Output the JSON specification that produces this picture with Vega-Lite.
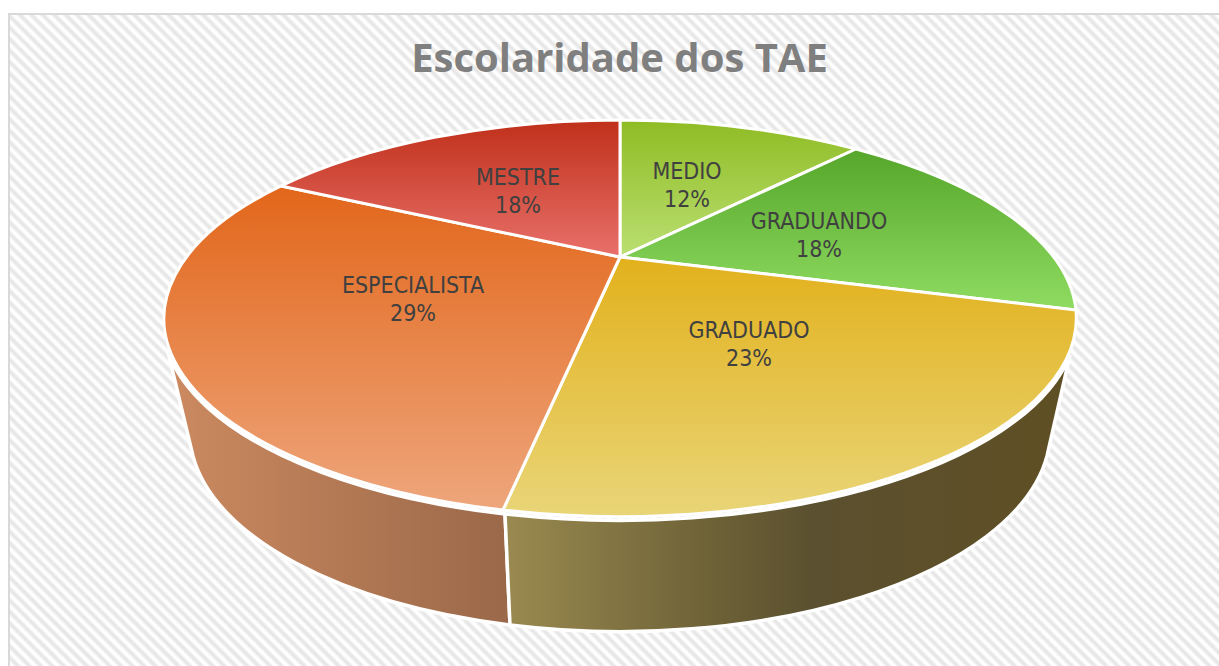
{"$schema":"https://vega.github.io/schema/vega-lite/v6.json","width":1219,"height":666,"padding":0,"autosize":{"type":"none"},"background":"white","config":{"view":{"stroke":null}},
"title":{"text":"Escolaridade dos TAE","anchor":"middle","dx":10,"dy":84,"font":"Open Sans","fontSize":40,"fontWeight":"bold","color":"#7f7f7f"},
"data":{"values":[{"slice":"MEDIO","share":0.12},{"slice":"GRADUANDO","share":0.18},{"slice":"GRADUADO","share":0.23},{"slice":"ESPECIALISTA","share":0.29},{"slice":"MESTRE","share":0.18}]},
"encoding":{"x":{"datum":0,"type":"quantitative","scale":{"domain":[-620,599]},"axis":null},"y":{"datum":0,"type":"quantitative","scale":{"domain":[409,-257]},"axis":null}},
"layer":[
{"transform":[{"filter":"datum.slice==='MEDIO'"}],"layer":[
{"mark":{"type":"point","size":4,"opacity":1,"clip":true,"filled":false,"shape":"M-1000,1000L1000,-1000","stroke":"#f4f4f4","strokeWidth":3000,"strokeDash":[5.5,2.6]}},
{"mark":{"type":"point","size":4,"opacity":1,"clip":true,"filled":false,"shape":"M-1000,1000L1000,-1000","stroke":"#e7e7e7","strokeWidth":3000,"strokeDash":[2.8,5.3],"strokeDashOffset":-1.4}},
{"mark":{"type":"point","size":4,"opacity":1,"filled":true,"fill":"white","shape":"M-620,-257H599V-244H-612V409H-620Z"}},
{"mark":{"type":"point","size":4,"opacity":1,"filled":false,"stroke":"#d9d9d9","strokeWidth":2,"shape":"M-611,409V-243H599"}}]},
{"transform":[{"filter":"datum.slice==='ESPECIALISTA'"}],"mark":{"type":"point","size":4,"opacity":1,"filled":true,"stroke":"white","strokeWidth":3.5,"fill":{"gradient":"linear","x1":0,"y1":0,"x2":1,"y2":0,"stops":[{"offset":0,"color":"#cc8a60"},{"offset":1,"color":"#9a6849"}]},"shape":"M-452,95A457,199 0 0 0 -115,257L-110,368A430,200 0 0 1 -427,199Z"}},
{"transform":[{"filter":"datum.slice==='GRADUADO'"}],"mark":{"type":"point","size":4,"opacity":1,"filled":true,"stroke":"white","strokeWidth":3.5,"fill":{"gradient":"linear","x1":0,"y1":0,"x2":1,"y2":0,"stops":[{"offset":0,"color":"#9a8a50"},{"offset":0.35,"color":"#6f6338"},{"offset":0.55,"color":"#5b502f"},{"offset":1,"color":"#5f4f24"}]},"shape":"M-115,257A457,199 0 0 0 450,98L427,199A430,200 0 0 1 -110,368Z"}},
{"transform":[{"filter":"datum.slice==='MEDIO'"}],"layer":[
{"mark":{"type":"point","size":4,"opacity":1,"filled":true,"stroke":"white","strokeWidth":3,"fill":{"gradient":"linear","x1":0,"y1":0,"x2":0,"y2":1,"stops":[{"offset":0,"color":"#8fbc24"},{"offset":1,"color":"#bbdf72"}]},"shape":"M0,0L0,-137A457,199 0 0 1 236,-108Z"}},
{"mark":{"type":"text","dx":67,"dy":-85,"font":"DejaVu Sans Condensed","fontSize":23,"color":"#404040"},"encoding":{"text":{"field":"slice"}}},
{"mark":{"type":"text","dx":67,"dy":-57,"font":"DejaVu Sans Condensed","fontSize":23,"color":"#404040"},"encoding":{"text":{"field":"share","type":"quantitative","format":".0%"}}}]},
{"transform":[{"filter":"datum.slice==='GRADUANDO'"}],"layer":[
{"mark":{"type":"point","size":4,"opacity":1,"filled":true,"stroke":"white","strokeWidth":3,"fill":{"gradient":"linear","x1":0,"y1":0,"x2":0,"y2":1,"stops":[{"offset":0,"color":"#55a62a"},{"offset":1,"color":"#90dc62"}]},"shape":"M0,0L236,-108A457,199 0 0 1 456,53Z"}},
{"mark":{"type":"text","dx":199,"dy":-35,"font":"DejaVu Sans Condensed","fontSize":23,"color":"#404040"},"encoding":{"text":{"field":"slice"}}},
{"mark":{"type":"text","dx":199,"dy":-7,"font":"DejaVu Sans Condensed","fontSize":23,"color":"#404040"},"encoding":{"text":{"field":"share","type":"quantitative","format":".0%"}}}]},
{"transform":[{"filter":"datum.slice==='GRADUADO'"}],"layer":[
{"mark":{"type":"point","size":4,"opacity":1,"filled":true,"stroke":"white","strokeWidth":3,"fill":{"gradient":"linear","x1":0,"y1":0,"x2":0,"y2":1,"stops":[{"offset":0,"color":"#e2b11c"},{"offset":1,"color":"#e9d578"}]},"shape":"M0,0L456,53A457,199 0 0 1 -117,253Z"}},
{"mark":{"type":"text","dx":129,"dy":74,"font":"DejaVu Sans Condensed","fontSize":23,"color":"#404040"},"encoding":{"text":{"field":"slice"}}},
{"mark":{"type":"text","dx":129,"dy":102,"font":"DejaVu Sans Condensed","fontSize":23,"color":"#404040"},"encoding":{"text":{"field":"share","type":"quantitative","format":".0%"}}}]},
{"transform":[{"filter":"datum.slice==='ESPECIALISTA'"}],"layer":[
{"mark":{"type":"point","size":4,"opacity":1,"filled":true,"stroke":"white","strokeWidth":3,"fill":{"gradient":"linear","x1":0,"y1":0,"x2":0,"y2":1,"stops":[{"offset":0,"color":"#e2661a"},{"offset":1,"color":"#eea67c"}]},"shape":"M0,0L-117,253A455,198 0 0 1 -339,-71Z"}},
{"mark":{"type":"text","dx":-207,"dy":29,"font":"DejaVu Sans Condensed","fontSize":23,"color":"#404040"},"encoding":{"text":{"field":"slice"}}},
{"mark":{"type":"text","dx":-207,"dy":57,"font":"DejaVu Sans Condensed","fontSize":23,"color":"#404040"},"encoding":{"text":{"field":"share","type":"quantitative","format":".0%"}}}]},
{"transform":[{"filter":"datum.slice==='MESTRE'"}],"layer":[
{"mark":{"type":"point","size":4,"opacity":1,"filled":true,"stroke":"white","strokeWidth":3,"fill":{"gradient":"linear","x1":0,"y1":0,"x2":0,"y2":1,"stops":[{"offset":0,"color":"#c0301a"},{"offset":1,"color":"#e8706a"}]},"shape":"M0,0L-339,-71A457,199 0 0 1 0,-137Z"}},
{"mark":{"type":"text","dx":-102,"dy":-79,"font":"DejaVu Sans Condensed","fontSize":23,"color":"#404040"},"encoding":{"text":{"field":"slice"}}},
{"mark":{"type":"text","dx":-102,"dy":-51,"font":"DejaVu Sans Condensed","fontSize":23,"color":"#404040"},"encoding":{"text":{"field":"share","type":"quantitative","format":".0%"}}}]}
]}
